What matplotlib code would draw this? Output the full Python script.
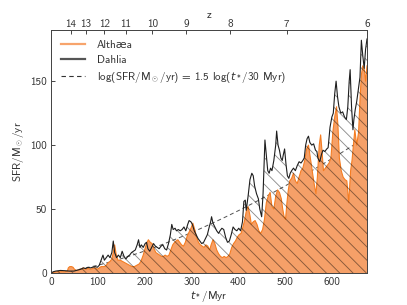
import matplotlib
matplotlib.use('Agg')
import matplotlib.pyplot as plt
from matplotlib.lines import Line2D
import numpy as np

plt.rcParams['font.family'] = ['cmss10', 'DejaVu Sans']
plt.rcParams['mathtext.fontset'] = 'custom'
plt.rcParams['mathtext.rm'] = 'cmss10'
plt.rcParams['mathtext.it'] = 'DejaVu Sans:italic'
plt.rcParams['axes.unicode_minus'] = False
plt.rcParams['font.size'] = 10
plt.rcParams['text.color'] = '#333333'
plt.rcParams['axes.labelcolor'] = '#333333'
plt.rcParams['xtick.color'] = '#333333'
plt.rcParams['ytick.color'] = '#333333'
plt.rcParams['axes.edgecolor'] = '#444444'
plt.rcParams['hatch.linewidth'] = 0.8

# Dahlia SFR (Msun/yr) vs t_* (Myr)
t_dahlia = [0, 5, 10, 20, 30, 39, 49, 54, 59, 64, 69, 74, 79, 84, 89, 94, 99, 103, 107, 111,
            114, 118, 122, 126, 130, 133, 136, 140, 144, 148, 152, 156, 160, 164, 168, 172,
            176, 180, 184, 187, 190, 193, 197, 201, 204, 207, 211, 215, 219, 223, 227, 231,
            235, 239, 243, 247, 251, 255, 258, 261, 265, 268, 272, 276, 280, 284, 288, 292,
            295, 299, 302, 306, 310, 314, 318, 322, 326, 330, 334, 338, 341, 343, 346, 350,
            354, 358, 361, 365, 369, 373, 377, 381, 385, 389, 393, 397, 401, 405, 409, 412,
            415, 417, 421, 425, 429, 432, 435, 439, 443, 446, 450, 453, 457, 460, 463, 466,
            469, 472, 476, 480, 482, 485, 488, 491, 494, 496, 499, 502, 505, 508, 511, 514,
            518, 522, 526, 530, 534, 538, 541, 544, 547, 550, 553, 557, 561, 565, 568, 570,
            574, 578, 581, 585, 589, 592, 596, 600, 603, 606, 609, 612, 615, 619, 623, 627,
            631, 634, 637, 639, 642, 645, 647, 650, 653, 657, 660, 663, 666, 669, 672, 675]
sfr_dahlia = [0, 1, 1.5, 2, 1.8, 1.5, 1.5, 2, 2.5, 3, 4, 3.5, 4.5, 4, 4.5, 5, 4.5, 6, 10, 14,
              10, 12, 14, 12, 16, 25, 16, 12, 14, 12, 17, 13, 11, 13, 14, 16,
              17, 18, 22, 26, 20, 22, 20, 23, 24, 19, 17, 20, 23, 21, 20, 19,
              21, 22, 19, 18, 23, 30, 38, 34, 35, 33, 34, 33, 34, 36, 33, 38,
              41, 40, 38, 33, 30, 27, 25, 23, 24, 27, 30, 36, 40, 44, 39, 36,
              33, 31, 33, 35, 34, 28, 24, 25, 30, 36, 34, 33, 35, 33, 40, 56,
              57, 49, 60, 73, 78, 76, 68, 62, 58, 50, 44, 62, 104, 92, 80, 78,
              82, 80, 88, 100, 111, 100, 96, 90, 88, 92, 97, 85, 76, 74, 78, 80,
              82, 80, 84, 87, 86, 88, 90, 100, 105, 107, 102, 100, 101, 96, 95, 90,
              87, 93, 96, 95, 97, 98, 114, 122, 125, 140, 150, 138, 130, 125, 126, 122,
              120, 130, 150, 159, 130, 112, 120, 128, 134, 145, 153, 182, 170, 160, 175, 183]

# Althaea SFR (Msun/yr) vs t_* (Myr)
t_althaea = [0, 5, 10, 20, 30, 35, 37, 40, 44, 47, 51, 55, 59, 64, 69, 74, 79, 84, 89, 94,
             99, 103, 107, 111, 114, 118, 122, 126, 130, 133, 136, 139, 143, 148, 153, 158,
             163, 168, 173, 178, 183, 188, 192, 197, 200, 204, 208, 212, 216, 220, 224, 228,
             232, 236, 240, 244, 248, 252, 256, 260, 264, 267, 271, 275, 279, 283, 287, 291,
             295, 299, 303, 307, 311, 315, 319, 323, 327, 331, 335, 339, 342, 346, 350, 354,
             358, 362, 366, 370, 374, 378, 382, 386, 390, 394, 398, 402, 406, 410, 414, 417,
             421, 425, 428, 432, 436, 440, 444, 448, 452, 456, 460, 464, 468, 472, 476, 480,
             484, 488, 492, 495, 498, 501, 504, 507, 510, 514, 518, 522, 526, 530, 534, 538,
             542, 546, 550, 554, 558, 562, 566, 569, 573, 576, 579, 582, 586, 590, 594, 598,
             602, 606, 610, 613, 616, 620, 624, 628, 632, 636, 640, 643, 646, 649, 653, 657,
             660, 663, 666, 669, 672, 675]
sfr_althaea = [0, 0.5, 1, 1, 1, 1.5, 4, 5, 5, 4.5, 2.5, 2, 2.5, 3, 4, 3, 3.5, 3, 3.5, 4,
               3, 4, 5, 5, 5, 6, 8, 9, 11, 16, 22, 15, 10, 10, 9, 8,
               7, 6, 5, 5, 6, 7, 9, 14, 18, 23, 26, 24, 23, 19, 16, 15,
               14, 13, 13, 14, 13, 14, 18, 22, 24, 25, 26, 24, 22, 21, 24, 29,
               32, 35, 39, 34, 28, 24, 22, 21, 20, 22, 21, 18, 22, 26, 23, 18,
               15, 13, 12, 13, 12, 13, 15, 20, 23, 25, 28, 30, 31, 36, 42, 48,
               52, 45, 38, 40, 41, 38, 33, 31, 34, 42, 55, 60, 63, 52, 50, 60,
               65, 63, 58, 50, 44, 42, 55, 65, 72, 74, 78, 72, 70, 75, 80, 82,
               88, 97, 100, 90, 80, 70, 62, 75, 100, 108, 95, 80, 82, 84, 86, 90,
               110, 122, 130, 115, 90, 80, 75, 73, 72, 55, 80, 88, 100, 112, 100, 110,
               135, 155, 162, 160, 150, 162]

# redshift ticks on the top axis and the t_* they sit at
z_labels = ['14', '13', '12', '11', '10', '9', '8', '7', '6']
t_at_z = [42.7, 74.8, 113.9, 159.6, 216.5, 288.5, 382.5, 503.6, 675]

t_fit = np.linspace(0.5, 675, 400)
sfr_fit = (t_fit / 30.0) ** 1.5

fig = plt.figure(figsize=(407 / 80, 305 / 80), dpi=80)
ax = fig.add_axes([0.1253, 0.1049, 0.7764, 0.7967])

ax.plot(t_fit, sfr_fit, ls='--', color='#555555', lw=0.9, dashes=(4, 3), zorder=1)
ax.fill_between(t_althaea, 0, sfr_althaea, facecolor='#f5a068', edgecolor='none', zorder=2)
ax.plot(t_althaea, sfr_althaea, color='#f57d22', lw=1.0, zorder=3)
ax.fill_between(t_dahlia, 0, sfr_dahlia, facecolor='none', edgecolor='#000000', alpha=0.45,
                hatch='\\\\', lw=0, zorder=4)
ax.plot(t_dahlia, sfr_dahlia, color='#1e1e1e', lw=1.0, zorder=5)

ax.set_xlim(0, 675)
ax.set_ylim(0, 190)
ax.set_xticks([0, 100, 200, 300, 400, 500, 600])
ax.set_yticks([0, 50, 100, 150])
ax.tick_params(direction='in', length=4, top=False, right=False)
ax.set_xlabel(r'$t_*$/Myr', labelpad=2)
ax.set_ylabel(r'SFR/M$_\odot$/yr', labelpad=4)

ax2 = ax.twiny()
ax2.set_xlim(ax.get_xlim())
ax2.set_xticks(t_at_z)
ax2.set_xticklabels(z_labels)
ax2.tick_params(direction='in', length=4, pad=0.5)
ax2.set_xlabel('z', labelpad=1.5)

handles = [Line2D([], [], color='#f7a46c', lw=2),
           Line2D([], [], color='#555555', lw=2),
           Line2D([], [], color='#333333', lw=1, ls='--', dashes=(4, 3))]
labels = ['Althæa', 'Dahlia', r'log(SFR/M$_\odot$/yr) = 1.5 log($t_*$/30 Myr)']
ax.legend(handles, labels, loc='upper left', frameon=False, handlelength=2.2,
          handletextpad=1.0, labelspacing=0.45, borderaxespad=0.5)

fig.savefig('out.png', dpi=80)
